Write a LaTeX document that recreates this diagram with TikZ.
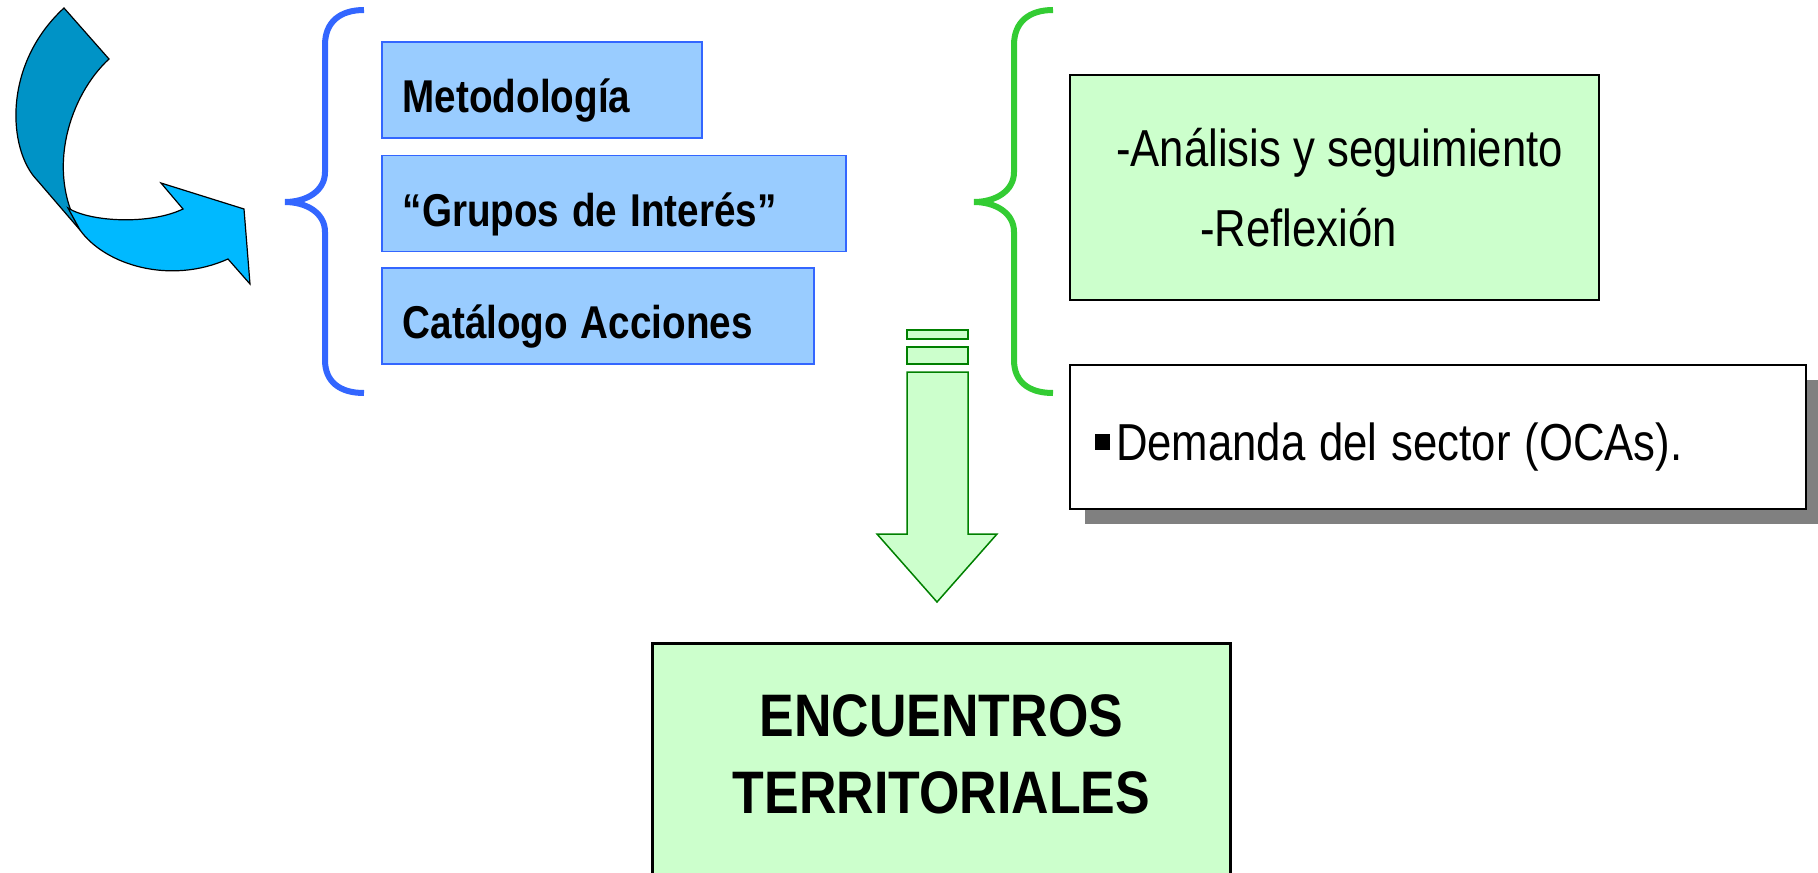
\documentclass[tikz,border=0pt]{standalone}
\usepackage{fontspec}
\setmainfont{Liberation Sans}[FakeStretch=0.84]
\newfontfamily\titlefont{Liberation Sans}[FakeStretch=0.865]
\usepackage{tikz}
\usetikzlibrary{positioning,shadows}

\definecolor{boxblue}{HTML}{99CCFF}
\definecolor{lineblue}{HTML}{3366FF}
\definecolor{palegreen}{HTML}{CCFFCC}
\definecolor{bracegreen}{HTML}{33CC33}
\definecolor{arrowgreen}{HTML}{008000}
\definecolor{arrowdark}{HTML}{0093C6}
\definecolor{arrowlight}{HTML}{00B9FF}

\tikzset{
	bluebox/.style={draw=lineblue, line width=0.75pt, fill=boxblue, minimum height=48pt,
		inner xsep=10.5pt, text height=22.5pt, text depth=0pt, align=left,
		execute at begin node={\spaceskip=0.28em\relax},
		font=\fontsize{23pt}{27pt}\selectfont\bfseries},
	greenbox/.style={draw=black, line width=1pt, fill=palegreen, align=left,
		font=\fontsize{26pt}{40pt}\selectfont},
	notebox/.style={draw=black, line width=1pt, fill=white, minimum height=72pt,
		inner xsep=12.5pt, text height=23pt, text depth=0pt, align=left,
		execute at begin node={\spaceskip=0.27em\relax},
		font=\fontsize{26pt}{30pt}\selectfont},
	titlebox/.style={draw=black, line width=1.5pt, fill=palegreen},
	titletext/.style={inner sep=0pt, align=center, font=\fontsize{30pt}{38.5pt}\titlefont\bfseries},
	brace line/.style={line width=3pt},
	bent arrow/.style={draw=black, line width=0.6pt},
	block arrow/.style={draw=arrowgreen, line width=0.75pt, fill=palegreen}
}
\newcommand{\sqbullet}{\rule[5pt]{7.5pt}{8pt}\hspace{3pt}}

\begin{document}
\begin{tikzpicture}[x=0.5pt,y=-0.5pt]
	\useasboundingbox (0,0) rectangle (1818,872);
	\clip (0,0) rectangle (1818,872);

	% curved arrow
	\path[bent arrow, fill=arrowdark] (64,8) -- (109,59) .. controls (70,95) and (45,170) .. (80,230)
		-- (37,180) .. controls (8,150) and (2,65) .. (64,8) -- cycle;
	\path[bent arrow, fill=arrowlight] (68,208) .. controls (90,222) and (150,225) .. (183,209)
		-- (161,183) -- (244,209) -- (250,284) -- (228,259)
		.. controls (170,285) and (105,265) .. (80,230) -- cycle;

	% braces
	\foreach \bx/\bc in {325/lineblue, 1014/bracegreen}
		\draw[brace line, \bc, shift={(\bx,0)}] (39,10) .. controls (15,10) and (0,22) .. (0,45)
			-- (0,172) .. controls (0,192) and (-20,202) .. (-40,202)
			.. controls (-20,202) and (0,212) .. (0,232)
			-- (0,360) .. controls (0,382) and (15,393) .. (39,393);

	% left column
	\node[bluebox, text width=139pt, anchor=west] (met) at (381,90) {Metodología};
	\node[bluebox, text width=211pt, below=8pt of met.south west, anchor=north west] (gru) {“Grupos de Interés”};
	\node[bluebox, text width=195pt, below=7.5pt of gru.south west, anchor=north west] (cat) {Catálogo Acciones};

	% right column
	\node[greenbox, minimum width=264.5pt, minimum height=112.5pt, anchor=north west] (ana) at (1069,74)
		{\hspace*{5pt}-Análisis y seguimiento\\\hspace*{47pt}-Reflexión};
	\node[notebox, text width=343pt, below=31.5pt of ana.south west, anchor=north west,
		drop shadow={shadow xshift=7.5pt, shadow yshift=-7.5pt, fill=black!50, opacity=1}] (dem)
		{\sqbullet Demanda del sector (OCAs).};

	% striped arrow
	\draw[block arrow] (907,330) rectangle (968,339);
	\draw[block arrow] (907,347) rectangle (968,364);
	\draw[block arrow] (907,372) -- (968,372) -- (968,534) -- (997,534) -- (937,602)
		-- (877,534) -- (907,534) -- cycle;

	% result
	\node[titlebox, minimum width=289pt, minimum height=140pt, anchor=north west] (enc) at (651,642) {};
	\node[titletext, below=26pt of enc.north] (enctxt) {ENCUENTROS\\TERRITORIALES};
\end{tikzpicture}
\end{document}
